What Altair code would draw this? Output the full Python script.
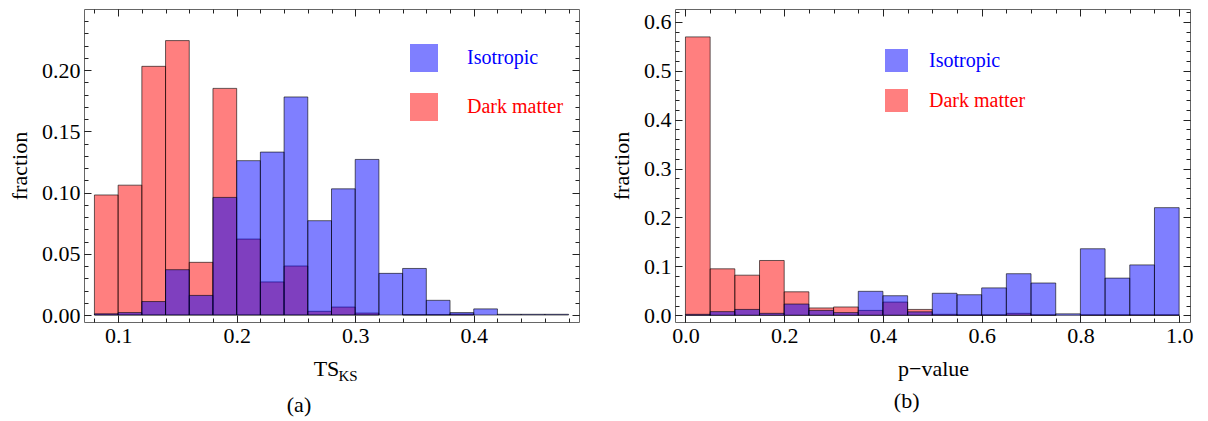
import altair as alt
import pandas as pd

FONT = "Liberation Serif"
BLUE = "#0000ff"
RED = "#ff0000"
TICK = "#222222"

# ---------- panel (a): TS_KS ----------
ts_edges = [0.08, 0.10, 0.12, 0.14, 0.16, 0.18, 0.20, 0.22, 0.24, 0.26, 0.28,
            0.30, 0.32, 0.34, 0.36, 0.38, 0.40, 0.42, 0.44, 0.46, 0.48]
ts_iso = [0.001, 0.002, 0.011, 0.037, 0.016, 0.096, 0.126, 0.133, 0.178, 0.077,
          0.103, 0.127, 0.034, 0.038, 0.012, 0.002, 0.005, 0.0006, 0.0006, 0.0006]
ts_dm = [0.098, 0.106, 0.203, 0.224, 0.043, 0.185, 0.062, 0.027, 0.040, 0.003,
         0.0065, 0.0016, 0.0, 0.0003, 0.0003, 0.0008, 0.0, 0.0, 0.0, 0.0]
ts_xmajor = [0.1, 0.2, 0.3, 0.4]
ts_xminor = [0.08, 0.10, 0.12, 0.14, 0.16, 0.18, 0.20, 0.22, 0.24, 0.26, 0.28,
             0.30, 0.32, 0.34, 0.36, 0.38, 0.40, 0.42, 0.44, 0.46, 0.48]
ts_ymajor = [0.0, 0.05, 0.10, 0.15, 0.20]
ts_yminor = [0.0, 0.01, 0.02, 0.03, 0.04, 0.05, 0.06, 0.07, 0.08, 0.09, 0.10, 0.11,
             0.12, 0.13, 0.14, 0.15, 0.16, 0.17, 0.18, 0.19, 0.20, 0.21, 0.22, 0.23, 0.24]

# ---------- panel (b): p-value ----------
pv_edges = [0.00, 0.05, 0.10, 0.15, 0.20, 0.25, 0.30, 0.35, 0.40, 0.45, 0.50,
            0.55, 0.60, 0.65, 0.70, 0.75, 0.80, 0.85, 0.90, 0.95, 1.00]
pv_iso = [0.002, 0.0075, 0.012, 0.004, 0.023, 0.010, 0.0055, 0.049, 0.040, 0.007,
          0.045, 0.042, 0.056, 0.085, 0.066, 0.003, 0.136, 0.076, 0.103, 0.220]
pv_dm = [0.569, 0.095, 0.082, 0.112, 0.048, 0.015, 0.017, 0.010, 0.027, 0.012,
         0.002, 0.001, 0.001, 0.004, 0.001, 0.0, 0.001, 0.001, 0.001, 0.001]
pv_xmajor = [0.0, 0.2, 0.4, 0.6, 0.8, 1.0]
pv_xminor = [0.00, 0.05, 0.10, 0.15, 0.20, 0.25, 0.30, 0.35, 0.40, 0.45, 0.50,
             0.55, 0.60, 0.65, 0.70, 0.75, 0.80, 0.85, 0.90, 0.95, 1.00]
pv_ymajor = [0.0, 0.1, 0.2, 0.3, 0.4, 0.5, 0.6]
pv_yminor = [0.0, 0.02, 0.04, 0.06, 0.08, 0.10, 0.12, 0.14, 0.16, 0.18, 0.20, 0.22,
             0.24, 0.26, 0.28, 0.30, 0.32, 0.34, 0.36, 0.38, 0.40, 0.42, 0.44, 0.46,
             0.48, 0.50, 0.52, 0.54, 0.56, 0.58, 0.60, 0.62]

series_names = ["Isotropic", "Dark matter"]
series_colors = [BLUE, RED]

MAJ = 7
MIN = 4


def make_df(edges, iso, dm):
    rows = []
    for i, v in enumerate(dm):
        if v > 0:
            rows.append({"lo": edges[i], "hi": edges[i + 1], "v": v,
                         "series": "Dark matter", "k": 0})
    for i, v in enumerate(iso):
        if v > 0:
            rows.append({"lo": edges[i], "hi": edges[i + 1], "v": v,
                         "series": "Isotropic", "k": 1})
    return pd.DataFrame(rows)


def tick_axis(orient, values, size):
    return alt.Axis(orient=orient, values=values, tickSize=size, offset=-size,
                    domain=False, grid=False, labels=False, ticks=True,
                    tickColor=TICK, tickWidth=1, title=None)


def panel(df, xdom, ydom, w, h, xmaj, xmin, ymaj, ymin, xfmt, yfmt,
          xtitle, xtitle_x, sub, sub_x, caption, cap_dx, leg):
    xs = alt.Scale(domain=xdom, nice=False, zero=False)
    ys = alt.Scale(domain=ydom, nice=False, zero=False)

    xaxis = alt.Axis(orient="bottom", values=xmaj, format=xfmt, tickSize=MAJ,
                     offset=-MAJ, domain=False, grid=False, tickColor=TICK,
                     tickWidth=1,
                     labelFont=FONT, labelFontSize=22, labelColor="black",
                     labelPadding=3, labelFlush=False, labelOverlap=False,
                     title=xtitle, titleFont=FONT, titleFontSize=22,
                     titleFontWeight="normal", titleColor="black",
                     titleX=xtitle_x, titleY=60, titleBaseline="alphabetic",
                     titleAlign="center")
    yaxis = alt.Axis(orient="left", values=ymaj, format=yfmt, tickSize=MAJ,
                     offset=-MAJ, domain=False, grid=False, tickColor=TICK,
                     tickWidth=1,
                     labelFont=FONT, labelFontSize=22, labelColor="black",
                     labelPadding=4, labelFlush=False, labelOverlap=False,
                     title="fraction", titleFont=FONT, titleFontSize=22,
                     titleFontWeight="normal", titleColor="black",
                     titlePadding=10)

    legend = alt.Legend(title=None, orient="none", legendX=leg[0], legendY=leg[1],
                        symbolType="square", symbolSize=leg[2], symbolOpacity=0.5,
                        symbolStrokeWidth=0, labelFont=FONT, labelFontSize=20,
                        labelColor={"expr": "datum.label == 'Isotropic' ? '#0000ff' : '#ff0000'"},
                        labelOffset=leg[3], rowPadding=leg[4], padding=0)

    bars = alt.Chart(df).mark_bar(fillOpacity=0.5, stroke="black",
                                  strokeOpacity=0.6, strokeWidth=1).encode(
        x=alt.X("lo:Q", scale=xs, axis=xaxis),
        x2="hi:Q",
        y=alt.Y("v:Q", scale=ys, axis=yaxis),
        y2=alt.datum(0),
        color=alt.Color("series:N",
                        scale=alt.Scale(domain=series_names, range=series_colors),
                        legend=legend),
        order=alt.Order("k:Q"),
    )

    base = alt.Chart(df).mark_point(opacity=0)
    top_right = base.encode(
        x=alt.X("lo:Q", scale=xs, axis=tick_axis("top", xmaj, MAJ)),
        y=alt.Y("v:Q", scale=ys, axis=tick_axis("right", ymaj, MAJ)),
    )
    minor_bl = base.encode(
        x=alt.X("lo:Q", scale=xs, axis=alt.Axis(
            orient="bottom", values=xmin, tickSize=MIN, offset=-MIN, domain=False,
            grid=False, labels=False, ticks=True, tickColor=TICK, tickWidth=1,
            title=sub, titleFont=FONT, titleFontSize=15, titleFontWeight="normal",
            titleColor="black", titleX=sub_x, titleY=62,
            titleBaseline="alphabetic", titleAlign="left")),
        y=alt.Y("v:Q", scale=ys, axis=tick_axis("left", ymin, MIN)),
    )
    minor_tr = base.encode(
        x=alt.X("lo:Q", scale=xs, axis=tick_axis("top", xmin, MIN)),
        y=alt.Y("v:Q", scale=ys, axis=tick_axis("right", ymin, MIN)),
    )

    return alt.layer(bars, top_right, minor_bl, minor_tr).resolve_axis(
        x="independent", y="independent"
    ).properties(
        width=w, height=h,
        title=alt.TitleParams(caption, orient="bottom", anchor="middle",
                              frame="bounds", font=FONT, fontSize=22,
                              fontWeight="normal", color="black", offset=12,
                              dx=cap_dx),
    )


df_a = make_df(ts_edges, ts_iso, ts_dm)
df_b = make_df(pv_edges, pv_iso, pv_dm)

left = panel(df_a, [0.0712, 0.4888], [-0.0057, 0.2498], 495, 313,
             ts_xmajor, ts_xminor, ts_ymajor, ts_yminor, ".1f", ".2f",
             "TS", 242, "KS", 254, "(a)", 5, (326, 35, 784, 29, 21))
right = panel(df_b, [-0.0212, 1.022], [-0.0137, 0.626], 515, 313,
              pv_xmajor, pv_xminor, pv_ymajor, pv_yminor, ".1f", ".1f",
              "p\u2212value", 258, "", 0, "(b)", 5, (210, 40, 529, 21, 17))

chart = alt.hconcat(left, right, spacing=30).resolve_scale(
    color="independent"
).resolve_legend(color="independent").properties(padding=0).configure_view(
    stroke="#666666", strokeWidth=1
)

chart.save("out.html", embed_options={"renderer": "svg", "actions": False})
